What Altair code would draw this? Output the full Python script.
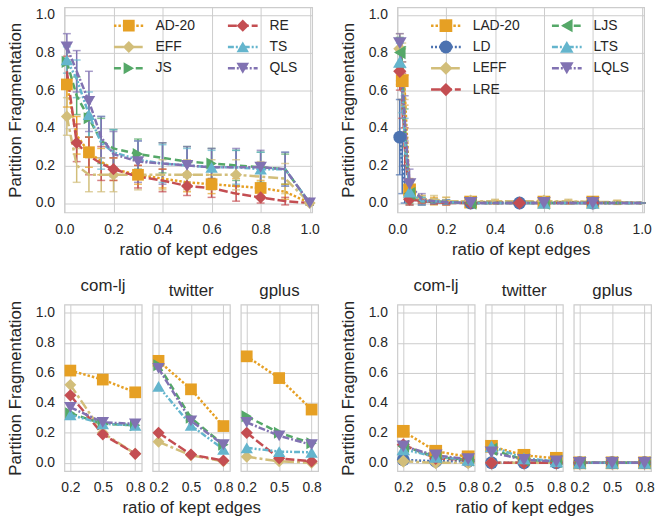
import altair as alt
import pandas as pd

FONT = "Liberation Sans"
INK = "#262626"
GRID = "#cccccc"

# ---- methods and their styling ---------------------------------------------
methods_full = ["AD-20", "EFF", "JS", "RE", "TS", "QLS"]
methods_local = ["LAD-20", "LD", "LEFF", "LRE", "LJS", "LTS", "LQLS"]
all_methods = methods_full + methods_local

colors = {
    "AD-20": "#E6A024", "EFF": "#D2BE7A", "JS": "#55A868", "RE": "#C44E52",
    "TS": "#64B5CD", "QLS": "#8172B2",
    "LAD-20": "#E6A024", "LD": "#4C72B0", "LEFF": "#D2BE7A", "LRE": "#C44E52",
    "LJS": "#55A868", "LTS": "#64B5CD", "LQLS": "#8172B2",
}
shapes = {
    "AD-20": "square", "EFF": "diamond", "JS": "triangle-right", "RE": "diamond",
    "TS": "triangle-up", "QLS": "triangle-down",
    "LAD-20": "square", "LD": "circle", "LEFF": "diamond", "LRE": "diamond",
    "LJS": "triangle-left", "LTS": "triangle-up", "LQLS": "triangle-down",
}
# symbol area per marker shape
shape_area = {"square": 140, "diamond": 190, "circle": 150,
              "triangle-up": 150, "triangle-down": 150,
              "triangle-left": 150, "triangle-right": 150}
dashes = {
    "AD-20": [2.5, 2], "EFF": [10, 3, 3, 3], "JS": [7, 4], "RE": [9, 3],
    "TS": [6, 2, 2, 2, 2, 2], "QLS": [7, 2, 2, 2],
    "LAD-20": [2.5, 2], "LD": [2, 2], "LEFF": [10, 3, 3, 3], "LRE": [9, 3],
    "LJS": [7, 4], "LTS": [6, 2, 2, 2, 2, 2], "LQLS": [7, 2, 2, 2],
}

# ---- full-graph sparsifiers (top left) ---------------------------------------
ratio_full = [0.01, 0.05, 0.1, 0.15, 0.2, 0.3, 0.4, 0.5, 0.6, 0.7, 0.8, 0.9, 1.0]
frag_full = {
    "AD-20": [0.63, 0.36, 0.27, 0.22, 0.18, 0.15, 0.13, 0.11, 0.10, 0.09, 0.08, 0.06, 0.0],
    "EFF":   [0.46, 0.20, 0.15, 0.15, 0.15, 0.15, 0.15, 0.15, 0.15, 0.15, 0.14, 0.13, 0.0],
    "JS":    [0.75, 0.57, 0.45, 0.33, 0.29, 0.26, 0.24, 0.22, 0.21, 0.20, 0.19, 0.18, 0.0],
    "RE":    [0.70, 0.32, 0.25, 0.21, 0.18, 0.14, 0.12, 0.09, 0.08, 0.05, 0.03, 0.01, 0.0],
    "TS":    [0.76, 0.66, 0.47, 0.32, 0.27, 0.23, 0.21, 0.20, 0.19, 0.19, 0.18, 0.18, 0.0],
    "QLS":   [0.83, 0.70, 0.54, 0.35, 0.26, 0.22, 0.21, 0.20, 0.19, 0.19, 0.19, 0.18, 0.0],
}
err_full = {
    "AD-20": [0.12, 0.10, 0.08, 0.07, 0.06, 0.05, 0.05, 0.05, 0.05, 0.04, 0.04, 0.04, 0.01],
    "EFF":   [0.10, 0.09, 0.09, 0.09, 0.09, 0.08, 0.08, 0.08, 0.08, 0.08, 0.08, 0.08, 0.01],
    "JS":    [0.10, 0.10, 0.10, 0.12, 0.10, 0.08, 0.08, 0.08, 0.08, 0.08, 0.08, 0.08, 0.01],
    "RE":    [0.08, 0.10, 0.10, 0.09, 0.06, 0.06, 0.06, 0.05, 0.05, 0.04, 0.03, 0.02, 0.01],
    "TS":    [0.07, 0.10, 0.12, 0.14, 0.12, 0.10, 0.10, 0.09, 0.09, 0.09, 0.09, 0.09, 0.01],
    "QLS":   [0.07, 0.11, 0.16, 0.11, 0.12, 0.11, 0.11, 0.10, 0.10, 0.10, 0.09, 0.09, 0.01],
}
marked_full = {
    "AD-20": [0.01, 0.1, 0.3, 0.6, 0.8],
    "EFF": [0.01, 0.2, 0.5, 0.7, 1.0],
    "JS": [0.01, 0.1, 0.3, 0.6],
    "RE": [0.05, 0.2, 0.5, 0.8],
    "TS": [0.01, 0.1, 0.6, 0.8],
    "QLS": [0.01, 0.1, 0.3, 0.5, 0.8, 1.0],
}

# ---- local sparsifiers (top right) --------------------------------------------
ratio_local = [0.01, 0.02, 0.03, 0.05, 0.1, 0.15, 0.2, 0.3, 0.4, 0.5, 0.6, 0.7, 0.8, 0.9, 1.0]
frag_local = {
    "LAD-20": [0.75, 0.65, 0.60, 0.07, 0.02, 0.01, 0.01, 0.005, 0.005, 0.005, 0.005, 0.005, 0.005, 0.003, 0.0],
    "LD":     [0.35, 0.20, 0.10, 0.02, 0.01, 0.005, 0.005, 0.0, 0.0, 0.0, 0.0, 0.0, 0.0, 0.0, 0.0],
    "LEFF":   [0.82, 0.75, 0.45, 0.03, 0.02, 0.02, 0.01, 0.01, 0.01, 0.01, 0.01, 0.01, 0.005, 0.005, 0.0],
    "LRE":    [0.70, 0.57, 0.30, 0.02, 0.01, 0.005, 0.0, 0.0, 0.0, 0.0, 0.0, 0.0, 0.0, 0.0, 0.0],
    "LJS":    [0.80, 0.75, 0.40, 0.05, 0.01, 0.01, 0.005, 0.0, 0.0, 0.0, 0.0, 0.0, 0.0, 0.0, 0.0],
    "LTS":    [0.75, 0.60, 0.35, 0.06, 0.01, 0.01, 0.005, 0.0, 0.0, 0.0, 0.0, 0.0, 0.0, 0.0, 0.0],
    "LQLS":   [0.85, 0.65, 0.45, 0.10, 0.02, 0.01, 0.005, 0.0, 0.0, 0.0, 0.0, 0.0, 0.0, 0.0, 0.0],
}
err_local = {
    "LAD-20": [0.12, 0.10, 0.08, 0.06, 0.02, 0.02, 0.02, 0.01, 0.01, 0.01, 0.01, 0.01, 0.01, 0.01, 0.0],
    "LD":     [0.20, 0.15, 0.10, 0.03, 0.01, 0.01, 0.01, 0.0, 0.0, 0.0, 0.0, 0.0, 0.0, 0.0, 0.0],
    "LEFF":   [0.08, 0.10, 0.10, 0.04, 0.02, 0.02, 0.02, 0.01, 0.01, 0.01, 0.01, 0.01, 0.01, 0.01, 0.0],
    "LRE":    [0.10, 0.12, 0.10, 0.03, 0.01, 0.01, 0.01, 0.01, 0.0, 0.0, 0.0, 0.0, 0.0, 0.0, 0.0],
    "LJS":    [0.08, 0.08, 0.10, 0.05, 0.02, 0.01, 0.01, 0.0, 0.0, 0.0, 0.0, 0.0, 0.0, 0.0, 0.0],
    "LTS":    [0.10, 0.12, 0.10, 0.05, 0.02, 0.01, 0.01, 0.01, 0.0, 0.0, 0.0, 0.0, 0.0, 0.0, 0.0],
    "LQLS":   [0.05, 0.10, 0.12, 0.08, 0.03, 0.01, 0.01, 0.0, 0.0, 0.0, 0.0, 0.0, 0.0, 0.0, 0.0],
}
marked_local = {
    "LAD-20": [0.02, 0.05, 0.3, 0.6, 0.8],
    "LD": [0.01, 0.3, 0.5, 0.8],
    "LEFF": [0.01, 0.05, 0.3, 0.6],
    "LRE": [0.01, 0.05, 0.3, 0.5, 0.8],
    "LJS": [0.01, 0.05, 0.3, 0.6],
    "LTS": [0.01, 0.05, 0.6, 0.8],
    "LQLS": [0.01, 0.05, 0.3, 0.6, 0.8],
}

# ---- per-graph results (bottom rows) -------------------------------------------
ratio_graph = [0.2, 0.5, 0.8]
graphs = ["com-lj", "twitter", "gplus"]
frag_graph_full = {
    "com-lj": {
        "AD-20": [0.615, 0.555, 0.47], "EFF": [0.52, 0.20, 0.06], "JS": [0.33, 0.26, 0.25],
        "RE": [0.45, 0.19, 0.06], "TS": [0.32, 0.26, 0.25], "QLS": [0.37, 0.27, 0.26],
    },
    "twitter": {
        "AD-20": [0.68, 0.49, 0.245], "EFF": [0.14, 0.05, 0.01], "JS": [0.65, 0.30, 0.12],
        "RE": [0.20, 0.055, 0.015], "TS": [0.51, 0.25, 0.09], "QLS": [0.63, 0.28, 0.12],
    },
    "gplus": {
        "AD-20": [0.71, 0.565, 0.355], "EFF": [0.04, 0.01, 0.0], "JS": [0.31, 0.20, 0.13],
        "RE": [0.20, 0.03, 0.01], "TS": [0.10, 0.075, 0.07], "QLS": [0.27, 0.18, 0.12],
    },
}
frag_graph_local = {
    "com-lj": {
        "LAD-20": [0.21, 0.077, 0.04], "LD": [0.02, 0.01, 0.01], "LEFF": [0.01, 0.0, 0.0],
        "LRE": [0.12, 0.03, 0.02], "LJS": [0.11, 0.04, 0.02], "LTS": [0.09, 0.04, 0.02],
        "LQLS": [0.11, 0.05, 0.025],
    },
    "twitter": {
        "LAD-20": [0.11, 0.05, 0.03], "LD": [0.0, 0.0, 0.0], "LEFF": [0.0, 0.0, 0.0],
        "LRE": [0.0, 0.0, 0.0], "LJS": [0.09, 0.02, 0.01], "LTS": [0.11, 0.03, 0.01],
        "LQLS": [0.07, 0.02, 0.01],
    },
    "gplus": {
        "LAD-20": [0.0, 0.0, 0.0], "LD": [0.0, 0.0, 0.0], "LEFF": [0.0, 0.0, 0.0],
        "LRE": [0.0, 0.0, 0.0], "LJS": [0.0, 0.0, 0.0], "LTS": [0.0, 0.0, 0.0],
        "LQLS": [0.0, 0.0, 0.0],
    },
}

Y_TITLE = "Partition Fragmentation"
X_TITLE = "ratio of kept edges"
TICKS_01 = [0.0, 0.2, 0.4, 0.6, 0.8, 1.0]

# one set of method scales shared by every panel
COLOR = alt.Color("method:N", legend=None,
                  scale=alt.Scale(domain=all_methods, range=[colors[m] for m in all_methods]))
DASH = alt.StrokeDash("method:N", legend=None,
                      scale=alt.Scale(domain=all_methods, range=[dashes[m] for m in all_methods]))
SHAPE = alt.Shape("method:N", legend=None,
                  scale=alt.Scale(domain=all_methods, range=[shapes[m] for m in all_methods]))
SIZE = alt.Size("method:N", legend=None,
                scale=alt.Scale(domain=all_methods,
                                range=[shape_area[shapes[m]] for m in all_methods]))


def long_table(ratios, values, errors=None, marked=None):
    rows = []
    for m, ys in values.items():
        for i, (x, y) in enumerate(zip(ratios, ys)):
            e = errors[m][i] if errors else 0.0
            rows.append({
                "method": m, "ratio": x, "frag": y,
                "lo": y - e, "hi": y + e,
                "marker": (marked is None) or (x in marked[m]),
            })
    return pd.DataFrame(rows)


def legend_layers(methods, nrows, col_x, row_y):
    rows = []
    for i, m in enumerate(methods):
        c, r = divmod(i, nrows)
        x0 = col_x[c]
        rows.append({"method": m, "x0": x0, "x1": x0 + 30, "xm": x0 + 15,
                     "xt": x0 + 42, "yy": row_y + 21.5 * r})
    base = alt.Chart(pd.DataFrame(rows))
    line = base.mark_rule(strokeWidth=2.5).encode(
        x=alt.X("x0:Q", scale=None), x2="x1:Q", y=alt.Y("yy:Q", scale=None),
        color=COLOR, strokeDash=DASH)
    pts = base.mark_point(filled=True, opacity=1).encode(
        x=alt.X("xm:Q", scale=None), y=alt.Y("yy:Q", scale=None),
        color=COLOR, shape=SHAPE, size=SIZE)
    txt = base.mark_text(align="left", baseline="middle", fontSize=14, font=FONT,
                         color=INK).encode(
        x=alt.X("xt:Q", scale=None), y=alt.Y("yy:Q", scale=None), text="method:N")
    return [line, pts, txt]


def panel(df, methods, xdom, ydom, width, height, xticks, show_y_labels, x_title,
          title=None, legend=None, errorbars=True):
    xaxis = alt.Axis(values=xticks, format=".1f", title=x_title, labelFlush=False)
    if show_y_labels:
        yaxis = alt.Axis(values=TICKS_01, format=".1f", title=Y_TITLE, labelFlush=False)
    else:
        yaxis = alt.Axis(values=TICKS_01, labels=False, title=None)
    x = alt.X("ratio:Q", scale=alt.Scale(domain=xdom, nice=False, zero=False), axis=xaxis)
    y = alt.Y("frag:Q", scale=alt.Scale(domain=ydom, nice=False, zero=False), axis=yaxis)
    base = alt.Chart(df)
    layers = []
    if errorbars:
        layers.append(base.mark_rule(strokeWidth=1.5).encode(
            x=x, y=alt.Y("lo:Q"), y2="hi:Q", color=COLOR))
        layers.append(base.mark_tick(orient="horizontal", size=8, thickness=1.5).encode(
            x=x, y=alt.Y("lo:Q"), color=COLOR))
        layers.append(base.mark_tick(orient="horizontal", size=8, thickness=1.5).encode(
            x=x, y=alt.Y("hi:Q"), color=COLOR))
    layers.append(base.mark_line(strokeWidth=2.5).encode(
        x=x, y=y, color=COLOR, strokeDash=DASH, detail="method:N"))
    layers.append(base.transform_filter("datum.marker").mark_point(
        filled=True, opacity=1).encode(x=x, y=y, color=COLOR, shape=SHAPE, size=SIZE))
    if legend:
        layers += legend_layers(methods, *legend)
    props = {"width": width, "height": height}
    if title:
        props["title"] = alt.Title(title, fontSize=17, font=FONT, color=INK,
                                   fontWeight="normal", offset=5)
    return alt.layer(*layers).properties(**props)


top_left = panel(long_table(ratio_full, frag_full, err_full, marked_full),
                 methods_full, [0.0, 1.01], [-0.05, 1.04], 250, 207, TICKS_01,
                 True, X_TITLE, legend=(3, [50, 165], 18.5))
top_right = panel(long_table(ratio_local, frag_local, err_local, marked_local),
                  methods_local, [0.0, 1.01], [-0.05, 1.04], 249, 207, TICKS_01,
                  True, X_TITLE, legend=(4, [34, 156], 18.5))


def graph_group(results, methods):
    cells = []
    for i, g in enumerate(graphs):
        cells.append(panel(long_table(ratio_graph, results[g]), methods,
                           [0.145, 0.86], [-0.055, 1.055], 78, 168, ratio_graph,
                           i == 0, X_TITLE if i == 1 else None, title=g,
                           errorbars=False))
    # plot areas sit a fixed distance apart; the shared x title may overhang
    return alt.hconcat(*cells, spacing=11, bounds="flush")


bottom = alt.hconcat(graph_group(frag_graph_full, methods_full),
                     graph_group(frag_graph_local, methods_local), spacing=16)
top = alt.hconcat(top_left, top_right, spacing=18)

chart = alt.vconcat(top, bottom, spacing=19).properties(
    padding={"left": 5, "top": 4, "right": 0, "bottom": 0}
).configure(font=FONT).configure_axis(
    grid=True, gridColor=GRID, gridWidth=1, domain=False, ticks=False, tickSize=0,
    labelFont=FONT, labelFontSize=14, labelColor=INK, labelPadding=10,
    titleFont=FONT, titleFontSize=17, titleColor=INK, titleFontWeight="normal",
).configure_axisX(titlePadding=5).configure_axisY(titlePadding=11).configure_view(
    stroke=GRID, strokeWidth=1.2)

chart.save("out.html", embed_options={"renderer": "svg", "actions": False})
